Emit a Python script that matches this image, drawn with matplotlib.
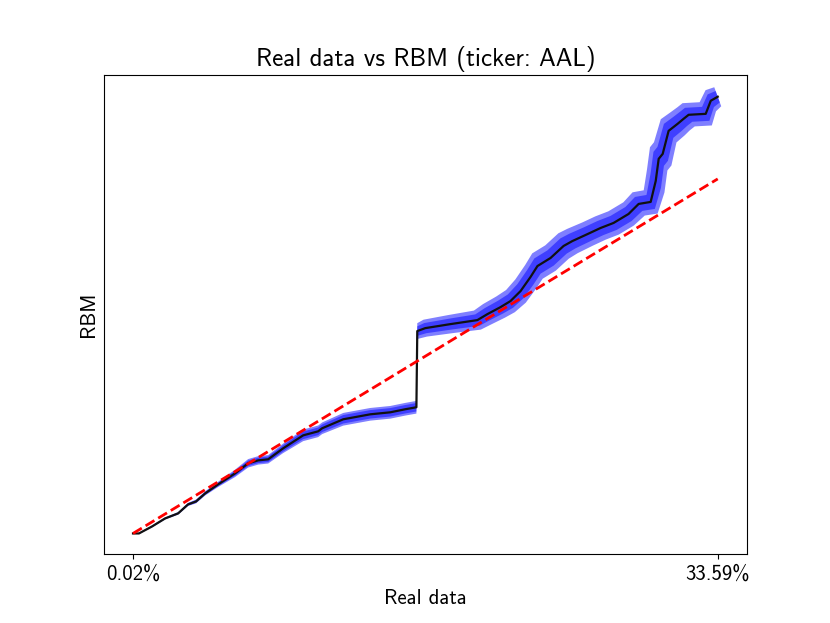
import matplotlib
matplotlib.use("Agg")
import matplotlib.pyplot as plt
import numpy as np

plt.rcParams['font.family'] = ['cmss10', 'DejaVu Sans']
plt.rcParams['axes.unicode_minus'] = False
plt.rcParams['mathtext.fontset'] = 'cm'

# QQ curve: real-data quantiles (x, %) vs RBM quantiles (y, %)
real_q = [0.02, 0.36, 1.11, 1.86, 2.61, 3.18, 3.64, 4.16, 4.91, 5.88,
          6.63, 7.21, 7.78, 8.64, 9.79, 10.65, 10.88, 12.09, 13.64, 14.79,
          15.65, 16.29, 16.34, 16.80, 18.24, 19.79, 20.37, 21.12, 21.69, 22.27,
          22.84, 23.24, 23.99, 24.74, 25.25, 26.12, 26.86, 27.61, 28.47, 29.05,
          29.74, 30.03, 30.20, 30.43, 30.77, 31.29, 31.63, 31.92, 32.90, 33.19, 33.59]
rbm_q = [0.02, 0.02, 0.68, 1.44, 1.92, 2.77, 3.05, 3.81, 4.67, 5.71,
         6.66, 6.94, 7.04, 8.08, 9.31, 9.69, 9.98, 10.83, 11.30, 11.49,
         11.78, 11.97, 19.18, 19.46, 19.84, 20.22, 20.79, 21.45, 22.02, 22.97,
         24.30, 25.34, 26.10, 27.24, 27.71, 28.37, 28.94, 29.42, 30.27, 31.22,
         31.41, 33.40, 35.49, 35.96, 38.14, 38.81, 39.28, 39.66, 39.75, 40.99, 41.37]

# band half-widths (outer and inner), vertical (y %) and horizontal (x %)
outer_dy = [0.0, 0.05, 0.08, 0.1, 0.12, 0.15, 0.18, 0.2, 0.25,
            0.35, 0.4, 0.4, 0.4,
            0.45, 0.55, 0.55, 0.55, 0.6, 0.6, 0.6, 0.6, 0.6,
            0.75, 0.8, 0.85, 0.9, 0.95, 1.0, 1.05, 1.1,
            1.15, 1.2, 1.2, 1.2, 1.15, 1.1, 1.1, 1.1, 1.1, 1.1,
            1.1, 1.1, 1.1, 1.1, 1.1, 1.1, 1.1, 1.1, 1.1, 1.0, 0.9]
outer_dx = ([0.0] * 23
            + [0.1, 0.15, 0.2, 0.25, 0.25, 0.25, 0.3, 0.3, 0.3, 0.3, 0.3, 0.3, 0.3]
            + [0.3, 0.3, 0.3, 0.35, 0.4, 0.5, 0.5, 0.5, 0.45, 0.4, 0.35, 0.35, 0.35, 0.3, 0.2])
inner_dy = [0.0, 0.03, 0.05, 0.06, 0.08, 0.1, 0.12, 0.13, 0.16,
            0.23, 0.26, 0.26, 0.26,
            0.3, 0.36, 0.36, 0.36, 0.4, 0.4, 0.4, 0.4, 0.4,
            0.45, 0.48, 0.51, 0.54, 0.57, 0.6, 0.63, 0.66,
            0.69, 0.72, 0.72, 0.72, 0.69, 0.66, 0.66, 0.66, 0.66, 0.66,
            0.66, 0.66, 0.66, 0.66, 0.66, 0.66, 0.66, 0.66, 0.66, 0.6, 0.54]
inner_dx = ([0.0] * 23
            + [0.06, 0.09, 0.12, 0.15, 0.15, 0.15, 0.18, 0.18, 0.18, 0.18, 0.18, 0.18, 0.18]
            + [0.18, 0.18, 0.18, 0.21, 0.24, 0.3, 0.3, 0.3, 0.27, 0.24, 0.21, 0.21, 0.21, 0.18, 0.12])

tick_vals = [real_q[0], real_q[-1]]
tick_labels = ["0.02%", "33.59%"]

x = np.array(real_q)
y = np.array(rbm_q)

fig = plt.figure(figsize=(8.3, 6.23), dpi=100)
ax = fig.add_subplot(111)

for dx, dy in [(np.array(outer_dx), np.array(outer_dy)), (np.array(inner_dx), np.array(inner_dy))]:
    ux, uy = x - dx, y + dy
    lx, ly = x + dx, y - dy
    px = np.concatenate([ux, lx[::-1]])
    py = np.concatenate([uy, ly[::-1]])
    ax.fill(px, py, color='blue', alpha=0.5, linewidth=0)

ax.plot(x, y, color='#111111', lw=1.6)
ax.plot([real_q[0], real_q[-1]], [real_q[0], real_q[-1]], 'r--', lw=2)

ax.set_xlim(-1.66, 35.27)
ax.set_ylim(-1.97, 43.45)
ax.set_xticks(tick_vals)
ax.set_xticklabels(tick_labels)
ax.set_yticks([])
ax.tick_params(labelsize=15)
ax.set_title("Real data vs RBM (ticker: AAL)", fontsize=18)
ax.set_xlabel("Real data", fontsize=15)
ax.set_ylabel("RBM", fontsize=15)

fig.savefig("out.png", dpi=100)
